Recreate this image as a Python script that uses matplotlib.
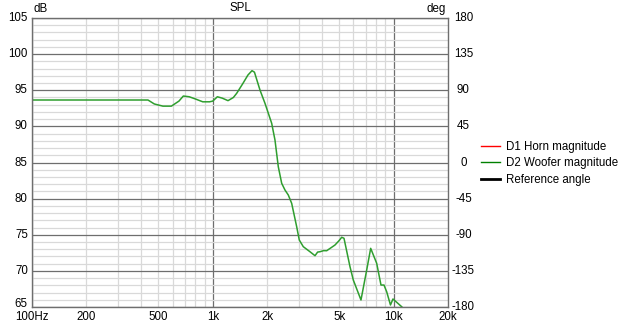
import matplotlib
matplotlib.use("Agg")
import matplotlib.pyplot as plt
from matplotlib.lines import Line2D
from matplotlib.ticker import FixedLocator, NullFormatter

plt.rcParams['font.family'] = ['Liberation Sans', 'DejaVu Sans']

# --- data ---
freq_hz = [100, 438, 475, 530, 590, 650, 687, 740, 800, 880, 960, 1000, 1060, 1130,
           1214, 1300, 1356, 1469, 1565, 1648, 1700, 1824, 1944, 2117, 2208, 2303,
           2405, 2508, 2616, 2731, 2911, 3009, 3166, 3448, 3676, 3800, 3917, 4100,
           4266, 4742, 5000, 5164, 5318, 5740, 5986, 6602, 7101, 7471, 8064, 8518,
           8850, 9157, 9612, 9924, 11087, 11600]
woofer_db = [93.65, 93.65, 93.1, 92.8, 92.8, 93.5, 94.2, 94.1, 93.8, 93.4, 93.4, 93.5,
             94.1, 93.9, 93.56, 94.0, 94.58, 95.96, 97.11, 97.71, 97.5, 95.03, 93.19,
             90.43, 88.11, 84.42, 82.12, 81.19, 80.5, 79.35, 76.11, 74.27, 73.35, 72.65,
             72.1, 72.6, 72.65, 72.8, 72.79, 73.58, 74.2, 74.65, 74.51, 70.58, 68.74,
             65.97, 70.12, 73.12, 71.05, 68.04, 68.04, 67.12, 65.28, 66.11, 65.04, 64.5]

legend_labels = ["D1 Horn magnitude", "D2 Woofer magnitude", "Reference angle"]
x_ticks = [100, 200, 500, 1000, 2000, 5000, 10000, 20000]
x_tick_labels = ["100Hz", "200", "500", "1k", "2k", "5k", "10k", "20k"]
y_ticks = [65, 70, 75, 80, 85, 90, 95, 100, 105]
deg_ticks = [-180, -135, -90, -45, 0, 45, 90, 135, 180]

W, H = 621, 325
fig = plt.figure(figsize=(W / 100, H / 100), dpi=100)
L, R, T, B = 32, 448, 18, 307
ax = fig.add_axes([L / W, 1 - B / H, (R - L) / W, (B - T) / H])

ax.set_xscale('log')
ax.set_xlim(100, 20000)
ax.set_ylim(65, 105)

minor_x = [m * d for d in (100, 1000, 10000) for m in range(2, 10) if m * d < 20000]
ax.xaxis.set_major_locator(FixedLocator([100, 1000, 10000]))
ax.xaxis.set_minor_locator(FixedLocator(minor_x))
ax.xaxis.set_major_formatter(NullFormatter())
ax.xaxis.set_minor_formatter(NullFormatter())
ax.yaxis.set_major_locator(FixedLocator(y_ticks))
ax.yaxis.set_minor_locator(FixedLocator(list(range(65, 106))))
ax.grid(which='minor', color='#d9d9d9', lw=0.9)
ax.grid(which='major', color='#6e6e6e', lw=0.9)
ax.set_axisbelow(True)
ax.tick_params(which='both', length=0, labelleft=False, labelbottom=False)
for s in ax.spines.values():
    s.set_color('#6e6e6e')
    s.set_linewidth(1.0)

ax.plot(freq_hz, woofer_db, color='#2f9e2f', lw=1.1, clip_on=True)

# tick labels
fs = 8.3
for v in y_ticks:
    dy = 2 if v == 65 else 0
    ax.annotate(str(v), xy=(0, (v - 65) / 40), xycoords='axes fraction',
                xytext=(-3, dy), textcoords='offset points', ha='right', va='center',
                fontsize=fs, color='black', annotation_clip=False)
for lbl, v in zip(x_tick_labels, x_ticks):
    ax.annotate(lbl, xy=(v, 65), xycoords='data',
                xytext=(0, -3), textcoords='offset points', ha='center', va='top',
                fontsize=fs, color='black', annotation_clip=False)
for v in deg_ticks:
    ax.text(1.037, (v + 180) / 360, str(v), transform=ax.transAxes, ha='center',
            va='center', fontsize=fs, color='black')

ax.text(0.5, 1.013, "SPL", transform=ax.transAxes, ha='center', va='bottom', fontsize=fs)
ax.text(0.003, 1.01, "dB", transform=ax.transAxes, ha='left', va='bottom', fontsize=fs)
ax.text(0.995, 1.01, "deg", transform=ax.transAxes, ha='right', va='bottom', fontsize=fs)

handles = [Line2D([], [], color='#ff0000', lw=1.0),
           Line2D([], [], color='#008000', lw=1.0),
           Line2D([], [], color='black', lw=2.0)]
fig.legend(handles, legend_labels, loc='upper left', bbox_to_anchor=(481 / W, 1 - 141 / H),
           frameon=False, fontsize=fs, borderpad=0, handlelength=1.65,
           handletextpad=0.55, labelspacing=0.38, borderaxespad=0)

fig.savefig("out.png", dpi=100)
